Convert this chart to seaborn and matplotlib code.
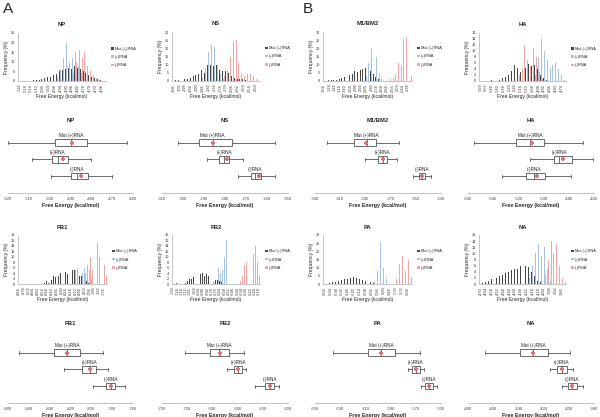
import numpy as np
import pandas as pd
import matplotlib
matplotlib.use('Agg')
import matplotlib.pyplot as plt
import seaborn as sns

sns.set_style('white')
plt.rcParams['font.family'] = ['Liberation Sans', 'DejaVu Sans']

series = ['Mut (+)RNA', '(+)RNA', '(-)RNA']
colors = ['#333333', '#9dbde4', '#f29a9a']

# ---- histogram data (frequency %, one value per free-energy bin) ----
np_bins = list(range(-522, -462, 2))
np_mut = [0, 0, 0, 0.2, 0, 0.3, 0.5, 0.5, 1, 1.5, 2, 2, 3, 3.5, 5, 5.5, 6.5, 7, 6, 8, 7, 6, 5, 4, 3, 2, 1.5, 1, 0.5, 0.2]
np_plus = [0, 0, 0, 0, 0, 0, 0, 0, 0, 0, 0, 0, 0, 2, 6, 12, 20, 10, 12, 15, 8, 4, 1, 0, 0, 0, 0, 0, 0, 0]
np_minus = [0, 0, 0, 0, 0, 0, 0, 0, 0, 0, 0, 0, 0, 0, 0, 0, 0, 0, 4, 10, 16, 12, 15, 8, 5, 3, 1.5, 0.5, 0, 0]

ns_bins = list(range(-306, -246, 2))
ns_mut = [0, 0.5, 0.5, 0, 1, 1, 2, 3, 3.5, 4.5, 6.5, 5, 9.5, 10, 9, 9.5, 7, 6, 6, 5, 3, 2, 1.5, 1, 1, 0.5, 0, 0, 0, 0]
ns_plus = [0, 0, 0, 0, 0, 0, 0, 0, 0, 0, 2, 8, 18, 22, 21, 10, 4, 1, 0, 0, 0, 0, 0, 0, 0, 0, 0, 0, 0, 0]
ns_minus = [0, 0, 0, 0, 0, 0, 0, 0, 0, 0, 0, 0, 0, 0, 0, 0, 0, 3, 6, 15, 24, 25, 11, 5, 3, 4, 4, 3, 1, 0]

m1_bins = list(range(-334, -232, 3))
m1_mut = [0, 0, 0.5, 0.5, 0.5, 0.5, 1.5, 2, 2.5, 2.5, 3.5, 4.5, 6, 5.5, 7, 7.5, 8, 6.5, 6, 4, 2.5, 1, 0.5,
          0, 0, 0, 0, 0, 0, 0, 0, 0, 0, 0]
m1_plus = [0, 0, 0, 0, 0, 0, 0, 0, 0, 0, 0, 0, 0, 0, 0, 0, 3, 11, 20, 12, 15, 5, 1,
           0, 0, 0, 0, 0, 0, 0, 0, 0, 0, 0]
m1_minus = [0, 0, 0, 0, 0, 0, 0, 0, 0, 0, 0, 0, 0, 0, 0, 0, 0, 0, 0, 0, 0, 0, 0, 0, 0,
            1, 2, 4, 11, 9, 26, 27, 18, 3]

ha_bins = list(range(-558, -468, 3))
ha_mut = [0, 0, 0, 0, 0.3, 0, 0, 0.5, 1, 1.5, 2, 3.5, 5.5, 4.5, 3, 5.5, 4.5, 5.8, 5, 5.5, 4, 2, 1, 0.5, 0, 0, 0, 0, 0, 0]
ha_plus = [0, 0, 0, 0, 0, 0, 0, 0, 0, 0, 0, 0, 0, 0, 0, 0, 0, 0, 0, 2, 8, 14, 10, 7, 4.5, 5.5, 6, 4, 2, 0.5]
ha_minus = [0, 0, 0, 0, 0, 0, 0, 0, 0, 0, 0, 0, 0, 2, 4, 12, 7, 5, 11, 8, 3, 1, 0, 0, 0, 0, 0, 0, 0, 0]

pb1_bins = list(range(-884, -770, 3))
pb1_mut = [0, 0, 0, 0, 0, 0, 0, 0, 0, 0, 0, 0.3, 1, 0.5, 1.5, 3, 2.5, 3, 4, 4.5, 4.5, 3.5, 3.5, 5, 5, 4, 3, 3, 2, 1,
           0.5, 0.2, 0, 0, 0, 0, 0, 0]
pb1_plus = [0, 0, 0, 0, 0, 0, 0, 0, 0, 0, 0, 0, 0, 0, 0, 0, 0, 0, 0, 0, 0, 0, 0, 2, 5, 6, 7, 4, 6, 16,
            5, 2, 0, 0, 0, 0, 0, 0]
pb1_minus = [0, 0, 0, 0, 0, 0, 0, 0, 0, 0, 0, 0, 0, 0, 0, 0, 0, 0, 0, 0, 0, 0, 0, 0, 0, 0, 0, 0, 4, 7,
             10, 5, 12, 15, 10, 12, 7, 3]

pb2_bins = list(range(-730, -607, 3))
pb2_mut = [0, 0, 0.3, 0, 0.3, 0.5, 0.5, 1, 1.8, 2, 2.5, 2.5, 3.5, 3.5, 4.2, 3, 3.5, 3, 2.5, 2, 1.5, 1.5, 1, 0.8,
           0.5, 0.2, 0, 0, 0, 0, 0, 0, 0, 0, 0, 0, 0, 0, 0, 0, 0]
pb2_plus = [0, 0, 0, 0, 0, 0, 0, 0, 0, 0, 0, 0, 0, 0, 0, 0, 0, 0, 0, 1, 3, 6, 4, 5, 10, 16, 5, 1,
            0, 0, 0, 0, 0, 0, 0, 0, 0, 0, 0, 0, 0]
pb2_minus = [0, 0, 0, 0, 0, 0, 0, 0, 0, 0, 0, 0, 0, 0, 0, 0, 0, 0, 0, 0, 0, 0, 0, 0, 0, 0, 0, 0, 0, 0, 0,
             1, 3, 7, 8, 6, 4, 11, 14, 8, 3]

pa_bins = list(range(-650, -560, 3))
pa_mut = [0, 0, 0.5, 1, 1.5, 2, 2.5, 3, 3, 3.5, 4, 3.5, 3, 2.5, 2, 1.5, 1, 0.5, 0, 0, 0, 0, 0, 0, 0, 0, 0, 0, 0, 0]
pa_plus = [0, 0, 0, 0, 0, 0, 0, 0, 0, 0, 0, 0, 0, 0, 0, 0, 0, 2, 8, 26, 10, 3, 0, 0, 0, 0, 0, 0, 0, 0]
pa_minus = [0, 0, 0, 0, 0, 0, 0, 0, 0, 0, 0, 0, 0, 0, 0, 0, 0, 0, 0, 0, 0, 0, 0, 0, 3, 12, 17, 8, 15, 4]

na_bins = list(range(-470, -380, 3))
na_mut = [0, 0.3, 0.5, 1, 1.5, 2, 2, 2.5, 3, 3.5, 4, 4.5, 5, 5, 6, 6.5, 6, 5.5, 4, 2.5, 1, 0.5, 0, 0, 0, 0, 0, 0, 0, 0]
na_plus = [0, 0, 0, 0, 0, 0, 0, 0, 0, 0, 0, 0, 0, 0, 0, 0, 0, 2, 6, 10, 13, 9, 12, 5, 1, 0, 0, 0, 0, 0]
na_minus = [0, 0, 0, 0, 0, 0, 0, 0, 0, 0, 0, 0, 0, 0, 0, 0, 0, 0, 0, 0, 0, 0, 3, 8, 14, 10, 13, 6, 2, 0.5]

# ---- box plot data: [min, q1, median, q3, max] and means ----
np_box_mut = [-520, -497.6, -489.6, -482.1, -462.7]
np_box_plus = [-508.5, -498.7, -496, -491.2, -480.3]
np_box_minus = [-499.2, -489.6, -486.7, -481.6, -469.9]
np_means = [-489.3, -493.6, -484.8]
np_ticks = [-520, -510, -500, -490, -480, -470, -460]

ns_box_mut = [-302.4, -292.5, -285.9, -276.7, -256.4]
ns_box_plus = [-288.6, -282.7, -280.3, -277.9, -271.4]
ns_box_minus = [-274, -267.5, -265.6, -262.9, -256.4]
ns_means = [-285.9, -279.1, -264]
ns_ticks = [-310, -300, -290, -280, -270, -260, -250]

m1_box_mut = [-320.7, -298.8, -289, -281.6, -263.3]
m1_box_plus = [-290.3, -279.7, -276.3, -272.6, -265.2]
m1_box_minus = [-252, -247.2, -245.1, -243, -238.2]
m1_means = [-289.8, -276.3, -245.1]
m1_ticks = [-330, -310, -290, -270, -250, -230]

ha_box_mut = [-555.2, -522.1, -510.4, -499.5, -469]
ha_box_plus = [-510.4, -491.6, -487.6, -477.2, -460.5]
ha_box_minus = [-533, -513.6, -507.5, -499, -478.3]
ha_means = [-509.6, -484.4, -505.6]
ha_ticks = [-560, -540, -520, -500, -480, -460]

pb1_box_mut = [-869.8, -835.8, -823, -811.2, -788.8]
pb1_box_plus = [-826.2, -808.6, -801.6, -795.8, -784]
pb1_box_minus = [-798.4, -785.6, -781.4, -777.6, -768]
pb1_means = [-823, -801.6, -781.4]
pb1_ticks = [-880, -860, -840, -820, -800, -780, -760]

pb2_box_mut = [-722.8, -692.8, -682, -670.8, -652]
pb2_box_plus = [-672.8, -664, -659.2, -655.2, -650]
pb2_box_minus = [-638.8, -626.8, -621.2, -617.2, -610.8]
pb2_means = [-681, -659.2, -621.2]
pb2_ticks = [-750, -720, -690, -660, -630, -600]

pa_box_mut = [-635.7, -607.9, -597.6, -586.5, -566.7]
pa_box_plus = [-576.2, -573, -569.8, -566.7, -563.5]
pa_box_minus = [-565.9, -562.7, -559.5, -556.3, -553.2]
pa_means = [-597.6, -569.8, -559.5]
pa_ticks = [-650, -630, -610, -590, -570, -550]

na_box_mut = [-466.5, -438.7, -428.4, -416.5, -399]
na_box_plus = [-414.9, -409.4, -405.4, -401.4, -396.7]
na_box_minus = [-405.4, -400.6, -397.5, -393.5, -388.7]
na_means = [-428.4, -405.4, -397.5]
na_ticks = [-480, -460, -440, -420, -400, -380]

W, H = 600, 417
fig = plt.figure(figsize=(6, 4.17), dpi=100)


def px(l, t, r, b):
    return [l / W, 1 - b / H, (r - l) / W, (b - t) / H]


def hist_panel(pos, title, bins, mut, plus, minus, ymax, ystep, pad):
    ax = fig.add_axes(px(*pos))
    labels = [str(b) for b in bins]
    df = pd.DataFrame({'bin': labels * 3,
                       'freq': mut + plus + minus,
                       'series': np.repeat(series, len(labels))})
    sns.barplot(data=df, x='bin', y='freq', hue='series', order=labels, hue_order=series,
                palette=colors, width=1.0, alpha=0.9, saturation=1, errorbar=None,
                linewidth=0, ax=ax)
    ax.set_ylim(0, ymax)
    ax.set_yticks(np.arange(0, ymax + 0.1, ystep))
    ax.set_xticks(range(0, len(labels), 2))
    ax.set_xticklabels(labels[::2], rotation=90)
    ax.tick_params(labelsize=2.8, length=1, width=0.3, pad=1, colors='#333333')
    ax.set_xlabel('Free Energy (kcal/mol)', fontsize=3.6, labelpad=1.5)
    ax.set_ylabel('Frequency (%)', fontsize=3.6, labelpad=1.5)
    ax.set_title(title, fontsize=4.2, fontweight='bold', pad=pad)
    for s in ['top', 'right']:
        ax.spines[s].set_visible(False)
    for s in ['left', 'bottom']:
        ax.spines[s].set_color('#999999')
        ax.spines[s].set_linewidth(0.4)
    sns.move_legend(ax, 'center left', bbox_to_anchor=(1.02, 0.5), frameon=False, title=None,
                    fontsize=2.8, handlelength=0.6, handleheight=0.6, handletextpad=0.3,
                    labelspacing=1.1)
    return ax


def box_panel(pos, title, bmut, bplus, bminus, means, ticks, pad):
    ax = fig.add_axes(px(*pos))
    df = pd.DataFrame({'energy': bmut + bplus + bminus, 'series': np.repeat(series, 5)})
    sns.boxplot(data=df, x='energy', y='series', order=series, whis=(0, 100), width=0.38,
                color='white', linecolor='#555555', linewidth=0.6, showfliers=False, ax=ax)
    ax.scatter(means, range(3), marker='P', s=5, color='#ec6a6a', linewidths=0, zorder=5)
    for i, st in enumerate([bmut, bplus, bminus]):
        ax.text(st[2], i - 0.27, series[i], ha='center', va='bottom', fontsize=3.3, color='#222222')
    ax.set_ylim(3.0, -0.75)
    ax.set_xlim(ticks[0], ticks[-1])
    ax.set_xticks(ticks)
    ax.set_xticklabels([str(t) for t in ticks])
    ax.set_yticks([])
    ax.set_ylabel('')
    ax.tick_params(axis='x', labelsize=3, length=2, width=0.4, pad=2, colors='#444444', direction='inout')
    ax.set_xlabel('Free Energy (kcal/mol)', fontsize=3.8, fontweight='bold', labelpad=1.5)
    ax.set_title(title, fontsize=4.2, fontweight='bold', pad=pad)
    for s in ['top', 'right', 'left']:
        ax.spines[s].set_visible(False)
    ax.spines['bottom'].set_color('#aaaaaa')
    ax.spines['bottom'].set_linewidth(0.5)
    return ax


# row 1: histograms
hist_panel((18, 33, 106, 81), 'NP', np_bins, np_mut, np_plus, np_minus, 25, 5, 5)
hist_panel((172, 32, 260, 81), 'NS', ns_bins, ns_mut, ns_plus, ns_minus, 30, 5, 5)
hist_panel((323, 32, 412, 81), 'M1/BM2', m1_bins, m1_mut, m1_plus, m1_minus, 30, 5, 5)
hist_panel((479, 33, 566, 81), 'HA', ha_bins, ha_mut, ha_plus, ha_minus, 16, 2, 5)

# row 2: box plots
box_panel((8, 130, 133, 193), 'NP', np_box_mut, np_box_plus, np_box_minus, np_means, np_ticks, 6)
box_panel((162, 130, 288, 193), 'NS', ns_box_mut, ns_box_plus, ns_box_minus, ns_means, ns_ticks, 6)
box_panel((315, 130, 441, 193), 'M1/BM2', m1_box_mut, m1_box_plus, m1_box_minus, m1_means, m1_ticks, 6)
box_panel((468, 130, 594, 193), 'HA', ha_box_mut, ha_box_plus, ha_box_minus, ha_means, ha_ticks, 6)

# row 3: histograms
hist_panel((18, 235, 107, 284), 'PB1', pb1_bins, pb1_mut, pb1_plus, pb1_minus, 18, 2, 4)
hist_panel((172, 235, 260, 284), 'PB2', pb2_bins, pb2_mut, pb2_plus, pb2_minus, 18, 2, 4)
hist_panel((323, 235, 412, 284), 'PA', pa_bins, pa_mut, pa_plus, pa_minus, 30, 5, 4)
hist_panel((479, 235, 566, 284), 'NA', na_bins, na_mut, na_plus, na_minus, 16, 2, 4)

# row 4: box plots
box_panel((8, 340, 133, 403), 'PB1', pb1_box_mut, pb1_box_plus, pb1_box_minus, pb1_means, pb1_ticks, 11)
box_panel((162, 340, 288, 403), 'PB2', pb2_box_mut, pb2_box_plus, pb2_box_minus, pb2_means, pb2_ticks, 11)
box_panel((315, 340, 441, 403), 'PA', pa_box_mut, pa_box_plus, pa_box_minus, pa_means, pa_ticks, 11)
box_panel((468, 340, 594, 403), 'NA', na_box_mut, na_box_plus, na_box_minus, na_means, na_ticks, 11)

fig.text(3 / W, 1 - 2 / H, 'A', fontsize=11, va='top', ha='left')
fig.text(303 / W, 1 - 2 / H, 'B', fontsize=11, va='top', ha='left')

fig.savefig('out.png', dpi=100)
